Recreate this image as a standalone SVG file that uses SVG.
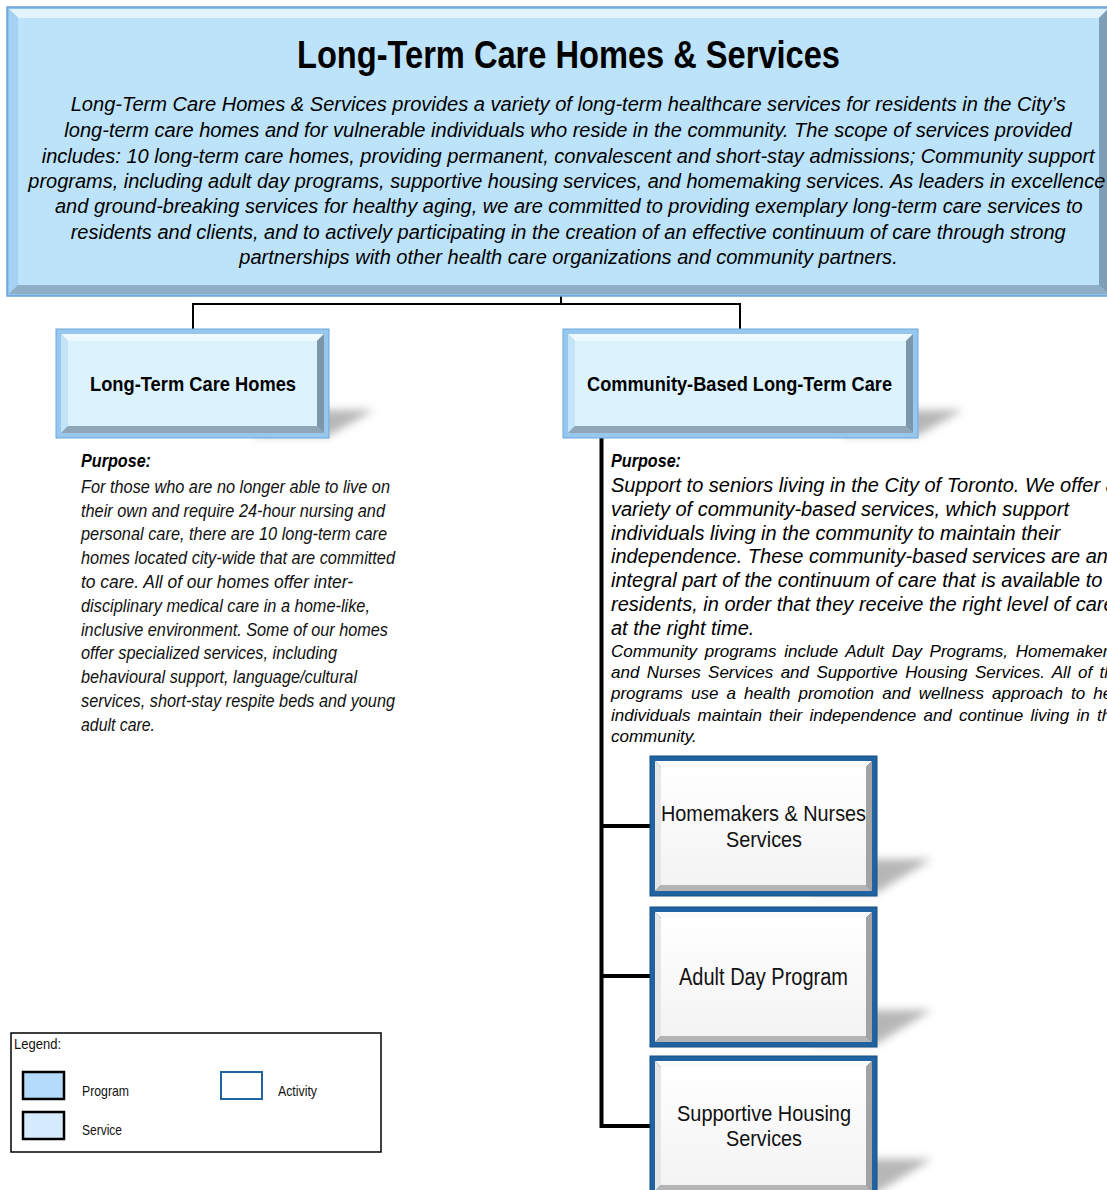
<svg xmlns="http://www.w3.org/2000/svg" width="1107" height="1190" viewBox="0 0 1107 1190">
<defs>
<style>
text { font-family: "Liberation Sans", Arial, sans-serif; fill: #000; }
.title { font-size: 38px; font-weight: bold; }
.desc { font-size: 20.5px; font-style: italic; }
.lbl { font-size: 20.5px; font-weight: bold; }
.act { font-size: 22px; fill: #111; }
.pl { font-size: 17.5px; font-style: italic; fill: #111; }
.ph { font-size: 17.5px; font-style: italic; font-weight: bold; }
.pr { font-size: 20px; font-style: italic; }
.ps { font-size: 17px; font-style: italic; }
.leg { font-size: 14.5px; fill: #111; }
.thin { fill: none; stroke: #000; stroke-width: 2; }
.thick { fill: none; stroke: #000; stroke-width: 4; }
.frameP { fill: #8cc3ee; stroke: #6aa3d6; stroke-width: 1.5; }
.frameS { fill: #96c8ef; stroke: #6ea7da; stroke-width: 1; }
.bT { fill: #eef9ff; }
.bL { fill: #c4e4f8; }
.bR { fill: #7c96aa; }
.bB { fill: #8ea6b8; }
.faceS { fill: #dcf2fd; }
.shadow { fill: #6f6f6f; opacity: 0.5; }
</style>
<filter id="blur" x="-50%" y="-50%" width="200%" height="200%">
<feGaussianBlur stdDeviation="4"/>
</filter>
<linearGradient id="actFace" x1="0" y1="0" x2="0" y2="1">
<stop offset="0" stop-color="#ffffff"/>
<stop offset="1" stop-color="#f3f3f3"/>
</linearGradient>
<g id="actBox">
<polygon class="shadow" filter="url(#blur)" points="160,137 226,137 282,103 216,103"/>
<rect x="0" y="0" width="227" height="140" fill="#1f64a1" stroke="#174f80" stroke-width="1"/>
<polygon points="5,5 222,5 216,11 11,11" fill="#fbfbfb"/>
<polygon points="5,5 11,11 11,129 5,135" fill="#e6e6e6"/>
<polygon points="222,5 216,11 216,129 222,135" fill="#a3a3a3"/>
<polygon points="5,135 11,129 216,129 222,135" fill="#b4b4b4"/>
<rect x="11" y="11" width="205" height="118" fill="url(#actFace)"/>
</g>
</defs>

<rect x="0" y="0" width="1107" height="1190" fill="#ffffff"/>

<g id="connectors">
<path class="thin" d="M193,329 V304 H740 V329 M561,296 V304"/>
<path class="thick" d="M601.5,438 V1126 H650 M601.5,826 H650 M601.5,976 H650"/>
</g>

<g id="ltc-homes-services">
<rect class="frameP" x="7" y="7" width="1103" height="289"/>
<polygon points="9,9 1108,9 1099,18 18,18" fill="#e3f4fe"/>
<polygon points="9,9 18,18 18,285 9,294" fill="#a5d2f2"/>
<polygon points="1108,9 1099,18 1099,285 1108,294" fill="#7f9fb9"/>
<polygon points="9,294 18,285 1099,285 1108,294" fill="#8eaec6"/>
<rect x="18" y="18" width="1081" height="267" fill="#bde3fb"/>
<text class="title" x="297" y="68" textLength="543" lengthAdjust="spacingAndGlyphs">Long-Term Care Homes &amp; Services</text>
<text class="desc" x="70.7" y="110.7" textLength="995" lengthAdjust="spacingAndGlyphs">Long-Term Care Homes &amp; Services provides a variety of long-term healthcare services for residents in the City’s</text>
<text class="desc" x="64.3" y="136.7" textLength="1007.4" lengthAdjust="spacingAndGlyphs">long-term care homes and for vulnerable individuals who reside in the community. The scope of services provided</text>
<text class="desc" x="41.7" y="162.7" textLength="1053" lengthAdjust="spacingAndGlyphs">includes: 10 long-term care homes, providing permanent, convalescent and short-stay admissions; Community support</text>
<text class="desc" x="28.3" y="187.9" textLength="1077" lengthAdjust="spacingAndGlyphs">programs, including adult day programs, supportive housing services, and homemaking services. As leaders in excellence</text>
<text class="desc" x="55" y="213.3" textLength="1027.7" lengthAdjust="spacingAndGlyphs">and ground-breaking services for healthy aging, we are committed to providing exemplary long-term care services to</text>
<text class="desc" x="70.7" y="238.6" textLength="995" lengthAdjust="spacingAndGlyphs">residents and clients, and to actively participating in the creation of an effective continuum of care through strong</text>
<text class="desc" x="239.3" y="264" textLength="658.4" lengthAdjust="spacingAndGlyphs">partnerships with other health care organizations and community partners.</text>
</g>

<g id="ltc-homes">
<polygon class="shadow" filter="url(#blur)" points="250,436 328,436 374,410 296,410"/>
<rect class="frameS" x="56" y="329" width="273" height="109"/>
<polygon class="bT" points="61,334 324,334 317,341 68,341"/>
<polygon class="bL" points="61,334 68,341 68,426 61,433"/>
<polygon class="bR" points="324,334 317,341 317,426 324,433"/>
<polygon class="bB" points="61,433 68,426 317,426 324,433"/>
<rect class="faceS" x="68" y="341" width="249" height="85"/>
<text class="lbl" x="90" y="390.7" textLength="206" lengthAdjust="spacingAndGlyphs">Long-Term Care Homes</text>
</g>

<g id="ltc-homes-purpose">
<text class="ph" x="81" y="467" textLength="70" lengthAdjust="spacingAndGlyphs">Purpose:</text>
<text class="pl" x="81" y="492.7" textLength="309" lengthAdjust="spacingAndGlyphs">For those who are no longer able to live on</text>
<text class="pl" x="81" y="516.5" textLength="304" lengthAdjust="spacingAndGlyphs">their own and require 24-hour nursing and</text>
<text class="pl" x="81" y="540.3" textLength="306" lengthAdjust="spacingAndGlyphs">personal care, there are 10 long-term care</text>
<text class="pl" x="81" y="564.1" textLength="314" lengthAdjust="spacingAndGlyphs">homes located city-wide that are committed</text>
<text class="pl" x="81" y="587.9" textLength="272" lengthAdjust="spacingAndGlyphs">to care. All of our homes offer inter-</text>
<text class="pl" x="81" y="611.7" textLength="289" lengthAdjust="spacingAndGlyphs">disciplinary medical care in a home-like,</text>
<text class="pl" x="81" y="635.5" textLength="307" lengthAdjust="spacingAndGlyphs">inclusive environment. Some of our homes</text>
<text class="pl" x="81" y="659.3" textLength="256" lengthAdjust="spacingAndGlyphs">offer specialized services, including</text>
<text class="pl" x="81" y="683.1" textLength="276" lengthAdjust="spacingAndGlyphs">behavioural support, language/cultural</text>
<text class="pl" x="81" y="706.9" textLength="314" lengthAdjust="spacingAndGlyphs">services, short-stay respite beds and young</text>
<text class="pl" x="81" y="730.7" textLength="74" lengthAdjust="spacingAndGlyphs">adult care.</text>
</g>

<g id="community-ltc">
<polygon class="shadow" filter="url(#blur)" points="839,436 917,436 963,410 885,410"/>
<rect class="frameS" x="563" y="329" width="355" height="109"/>
<polygon class="bT" points="568,334 913,334 906,341 575,341"/>
<polygon class="bL" points="568,334 575,341 575,426 568,433"/>
<polygon class="bR" points="913,334 906,341 906,426 913,433"/>
<polygon class="bB" points="568,433 575,426 906,426 913,433"/>
<rect class="faceS" x="575" y="341" width="331" height="85"/>
<text class="lbl" x="587" y="390.7" textLength="305" lengthAdjust="spacingAndGlyphs">Community-Based Long-Term Care</text>
</g>

<g id="community-ltc-purpose">
<text class="ph" x="611" y="467" textLength="70" lengthAdjust="spacingAndGlyphs">Purpose:</text>
<text class="pr" x="611" y="491.7">Support to seniors living in the City of Toronto. We offer a</text>
<text class="pr" x="611" y="515.6">variety of community-based services, which support</text>
<text class="pr" x="611" y="539.5">individuals living in the community to maintain their</text>
<text class="pr" x="611" y="563.4">independence. These community-based services are an</text>
<text class="pr" x="611" y="587.3">integral part of the continuum of care that is available  to</text>
<text class="pr" x="611" y="611.2">residents, in order that they receive the right level of care</text>
<text class="pr" x="611" y="635">at the right time.</text>
<text class="ps" x="611" y="657" word-spacing="3">Community programs include Adult Day Programs, Homemakers</text>
<text class="ps" x="611" y="678.2" word-spacing="2.7">and Nurses Services and Supportive Housing Services. All of the</text>
<text class="ps" x="611" y="699.4" word-spacing="3.4">programs use a health promotion and wellness approach to help</text>
<text class="ps" x="611" y="720.6" word-spacing="2.5">individuals maintain their independence and continue living in the</text>
<text class="ps" x="611" y="741.8">community.</text>
</g>

<g id="homemakers-nurses">
<use href="#actBox" x="650" y="756"/>
<text class="act" x="661" y="821" textLength="205" lengthAdjust="spacingAndGlyphs">Homemakers &amp; Nurses</text>
<text class="act" x="726" y="847" textLength="76" lengthAdjust="spacingAndGlyphs">Services</text>
</g>

<g id="adult-day-program">
<use href="#actBox" x="650" y="907"/>
<text class="act" x="679" y="985" textLength="169" lengthAdjust="spacingAndGlyphs" style="font-size:23px">Adult Day Program</text>
</g>

<g id="supportive-housing">
<use href="#actBox" x="650" y="1056"/>
<text class="act" x="677" y="1121" textLength="174" lengthAdjust="spacingAndGlyphs">Supportive Housing</text>
<text class="act" x="726" y="1146" textLength="76" lengthAdjust="spacingAndGlyphs">Services</text>
</g>

<g id="legend">
<rect x="11" y="1033" width="370" height="119" fill="#ffffff" stroke="#000" stroke-width="1.5"/>
<text class="leg" x="14" y="1049" textLength="47" lengthAdjust="spacingAndGlyphs">Legend:</text>
<rect x="23" y="1072" width="41" height="27" fill="#b3d9fb" stroke="#000" stroke-width="2.5"/>
<text class="leg" x="82" y="1096" textLength="47" lengthAdjust="spacingAndGlyphs">Program</text>
<rect x="221" y="1072" width="41" height="27" fill="#ffffff" stroke="#1f64a1" stroke-width="2"/>
<text class="leg" x="278" y="1096" textLength="39" lengthAdjust="spacingAndGlyphs">Activity</text>
<rect x="23" y="1112" width="41" height="27" fill="#d5eafd" stroke="#000" stroke-width="2.5"/>
<text class="leg" x="82" y="1135" textLength="40" lengthAdjust="spacingAndGlyphs">Service</text>
</g>
</svg>
